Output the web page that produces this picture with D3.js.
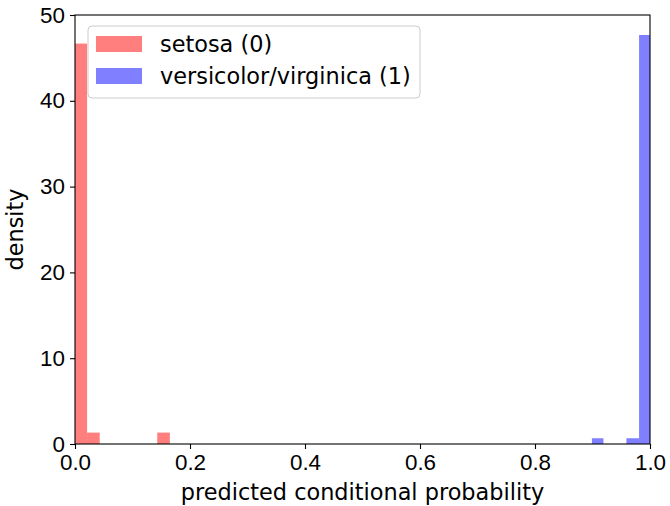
<!DOCTYPE html>
<html>
<head>
<meta charset="utf-8">
<script src="https://cdn.jsdelivr.net/npm/d3@7"></script>
<style>
  body { margin: 0; background: #fff; }
  svg { font-family: "DejaVu Sans", sans-serif; }
  .axis text { font-size: 22.4px; fill: #000; }
  .axis path, .axis line { stroke: #000; stroke-width: 1.1; }
</style>
</head>
<body>
<div id="chart"></div>
<script>
// histogram bins (density)
var setosaStart = [0.0, 0.021, 0.143];
var setosaEnd = [0.021, 0.043, 0.165];
var setosaDensity = [46.67, 1.33, 1.33];

var versiStart = [0.899, 0.959, 0.981];
var versiEnd = [0.919, 0.981, 1.0];
var versiDensity = [0.67, 0.67, 47.67];

var xTicks = [0.0, 0.2, 0.4, 0.6, 0.8, 1.0];
var yTicks = [0, 10, 20, 30, 40, 50];

var seriesNames = ["setosa (0)", "versicolor/virginica (1)"];
var seriesColors = ["rgba(255,0,0,0.5)", "rgba(0,0,255,0.5)"];

var svg = d3.select("#chart").append("svg")
    .attr("width", 670)
    .attr("height", 506);

var margin = {top: 15, right: 20, bottom: 62, left: 75},
    width = 670 - margin.left - margin.right,
    height = 506 - margin.top - margin.bottom,
    g = svg.append("g").attr("transform", "translate(" + margin.left + "," + margin.top + ")");

var x = d3.scaleLinear().domain([0, 1]).range([0, width]);
var y = d3.scaleLinear().domain([0, 50]).range([height, 0]);

function drawBars(starts, ends, vals, color) {
    g.selectAll(null)
        .data(d3.zip(starts, ends, vals))
        .enter().append("rect")
        .attr("x", function (d) { return x(d[0]); })
        .attr("width", function (d) { return x(d[1]) - x(d[0]); })
        .attr("y", function (d) { return y(d[2]); })
        .attr("height", function (d) { return y(0) - y(d[2]); })
        .attr("fill", color);
}
drawBars(setosaStart, setosaEnd, setosaDensity, seriesColors[0]);
drawBars(versiStart, versiEnd, versiDensity, seriesColors[1]);

// frame
g.append("rect")
    .attr("width", width).attr("height", height)
    .attr("fill", "none").attr("stroke", "#000").attr("stroke-width", 1.1);

// axes
g.append("g")
    .attr("class", "axis")
    .attr("transform", "translate(0," + height + ")")
    .call(d3.axisBottom(x).tickValues(xTicks).tickFormat(d3.format(".1f")).tickSizeOuter(0).tickSize(5).tickPadding(5));
g.append("g")
    .attr("class", "axis")
    .call(d3.axisLeft(y).tickValues(yTicks).tickSizeOuter(0).tickSize(5).tickPadding(5));
g.selectAll(".axis .domain").remove();

// labels
svg.append("text")
    .attr("x", margin.left + width / 2)
    .attr("y", 500)
    .attr("text-anchor", "middle")
    .style("font-size", "22.4px")
    .text("predicted conditional probability");
svg.append("text")
    .attr("transform", "translate(23," + (margin.top + height / 2) + ") rotate(-90)")
    .attr("text-anchor", "middle")
    .style("font-size", "22.4px")
    .text("density");

// legend
var legend = g.append("g").attr("transform", "translate(13,11)");
legend.append("rect")
    .attr("width", 332).attr("height", 72)
    .attr("rx", 4)
    .attr("fill", "#fff").attr("fill-opacity", 0.8)
    .attr("stroke", "#ccc");
seriesNames.forEach(function (name, i) {
    legend.append("rect")
        .attr("x", 8).attr("y", 10 + i * 32)
        .attr("width", 46).attr("height", 16)
        .attr("fill", seriesColors[i]);
    legend.append("text")
        .attr("x", 72).attr("y", 26 + i * 32)
        .style("font-size", "22.4px")
        .text(name);
});
</script>
</body>
</html>
